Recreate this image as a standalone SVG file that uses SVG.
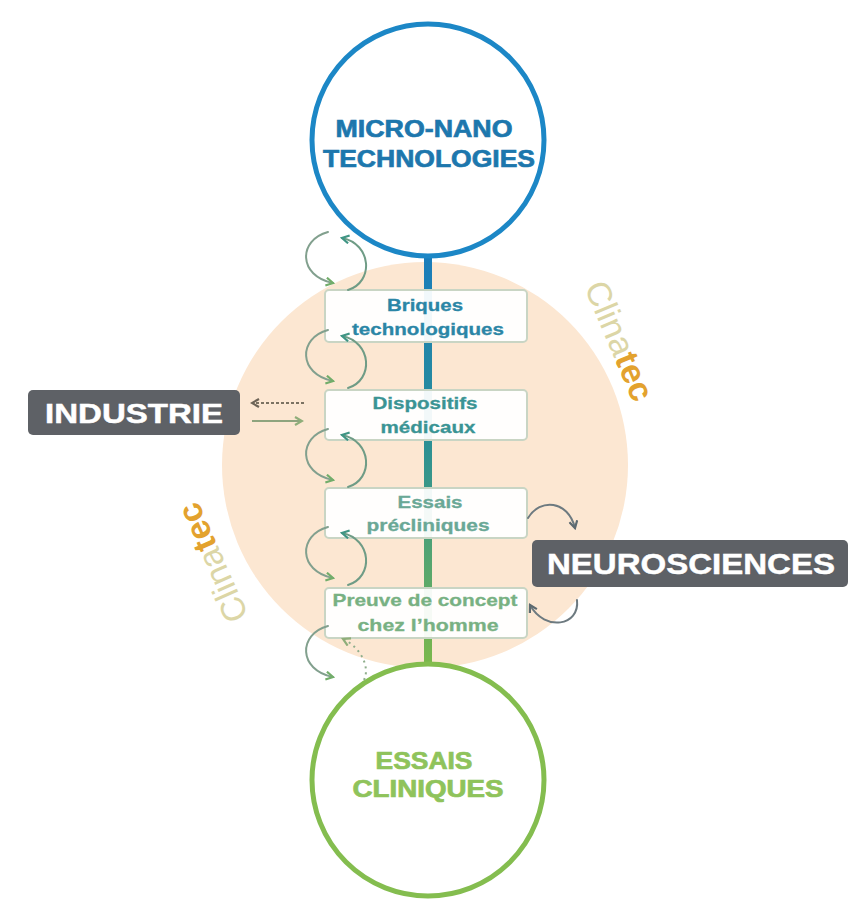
<svg xmlns="http://www.w3.org/2000/svg" width="859" height="904" viewBox="0 0 859 904">
  <style>
    .cap { font-family: "Liberation Sans", Arial, sans-serif; font-weight: bold; text-anchor: middle; stroke-width: 0.7; }
    .step { font-family: "Liberation Sans", Arial, sans-serif; font-weight: bold; font-size: 17px; text-anchor: middle; stroke-width: 0.3; }
    .box { fill: #ffffff; fill-opacity: 0.94; stroke: #c9d5c4; stroke-width: 2; }
    .tag { fill: #5e6166; }
    .tagtxt { fill: #ffffff; stroke: #ffffff; stroke-width: 0.5; }
    .loopL { fill: none; stroke: #82a08e; stroke-width: 2; stroke-linecap: round; marker-end: url(#headG); }
    .loopR { fill: none; stroke: #6f9c86; stroke-width: 2; stroke-linecap: round; marker-end: url(#headT); }
    .grey { fill: none; stroke: #6d7a80; stroke-width: 2; stroke-linecap: round; marker-end: url(#headGrey); }
    .clina { font-family: "Liberation Sans", Arial, sans-serif; font-size: 34px; }
  </style>
  <defs>
    <linearGradient id="spine" x1="0" y1="257" x2="0" y2="663" gradientUnits="userSpaceOnUse">
      <stop offset="0" stop-color="#1a7dbb"/>
      <stop offset="0.45" stop-color="#2a8f96"/>
      <stop offset="0.75" stop-color="#55a570"/>
      <stop offset="1" stop-color="#7bb84c"/>
    </linearGradient>
    <marker id="headG" viewBox="0 0 10 10" refX="8" refY="5" markerWidth="5" markerHeight="5" orient="auto">
      <path d="M1,1 L8,5 L1,9" fill="none" stroke="#72ad6a" stroke-width="2.2"/>
    </marker>
    <marker id="headT" viewBox="0 0 10 10" refX="8" refY="5" markerWidth="5" markerHeight="5" orient="auto">
      <path d="M1,1 L8,5 L1,9" fill="none" stroke="#3f9584" stroke-width="2.2"/>
    </marker>
    <marker id="headGrey" viewBox="0 0 10 10" refX="8" refY="5" markerWidth="5" markerHeight="5" orient="auto">
      <path d="M1,1 L8,5 L1,9" fill="none" stroke="#5d6a70" stroke-width="2.2"/>
    </marker>
    <marker id="headDark" viewBox="0 0 10 10" refX="8" refY="5" markerWidth="5" markerHeight="5" orient="auto">
      <path d="M1,1 L8,5 L1,9" fill="none" stroke="#6c6356" stroke-width="2.2"/>
    </marker>
    <marker id="headLight" viewBox="0 0 10 10" refX="8" refY="5" markerWidth="5" markerHeight="5" orient="auto">
      <path d="M1,1 L8,5 L1,9" fill="none" stroke="#8fae7a" stroke-width="2.2"/>
    </marker>
    <!-- one feedback loop beside the chain, drawn for a top edge at y=0 -->
    <g id="loop">
      <path class="loopL" d="M328,2 C298,10 298,46 333,53"/>
      <path class="loopR" d="M348,60 C374,52 372,14 342,8"/>
    </g>
  </defs>

  <rect width="859" height="904" fill="#ffffff"/>

  <!-- Clinatec backdrop -->
  <g id="clinatec">
    <circle cx="425" cy="465" r="203" fill="#fce7d2"/>
    <text class="clina" transform="translate(584,287) rotate(67)"><tspan fill="#dcd6a6">Clina</tspan><tspan fill="#e3a22e" font-weight="bold">tec</tspan></text>
    <text class="clina" transform="translate(249,616) rotate(-114)"><tspan fill="#dcd6a6">Clina</tspan><tspan fill="#e3a22e" font-weight="bold">tec</tspan></text>
  </g>

  <!-- the vertical chain, running behind the step boxes -->
  <g id="chain">
    <line x1="428" y1="257" x2="428" y2="663" stroke="url(#spine)" stroke-width="8"/>
  </g>

  <g id="micro-nano">
    <circle cx="428" cy="140" r="116" fill="#ffffff" stroke="#1c87c6" stroke-width="5"/>
    <text class="cap" x="424" y="137" font-size="24" fill="#1d77ad" stroke="#1d77ad" textLength="177" lengthAdjust="spacingAndGlyphs">MICRO-NANO</text>
    <text class="cap" x="429" y="167" font-size="24" fill="#1d77ad" stroke="#1d77ad" textLength="212" lengthAdjust="spacingAndGlyphs">TECHNOLOGIES</text>
  </g>

  <g id="essais-cliniques">
    <circle cx="428" cy="780" r="116" fill="#ffffff" stroke="#84bd4f" stroke-width="5"/>
    <text class="cap" x="424" y="769" font-size="23" fill="#8fc35b" stroke="#8fc35b" textLength="97" lengthAdjust="spacingAndGlyphs">ESSAIS</text>
    <text class="cap" x="428" y="797" font-size="23" fill="#8fc35b" stroke="#8fc35b" textLength="151" lengthAdjust="spacingAndGlyphs">CLINIQUES</text>
  </g>

  <g id="briques">
    <rect class="box" x="325" y="290" width="202" height="52" rx="4"/>
    <text class="step" x="425" y="311" fill="#2b86a6" stroke="#2b86a6" textLength="76" lengthAdjust="spacingAndGlyphs">Briques</text>
    <text class="step" x="428" y="335" fill="#2b86a6" stroke="#2b86a6" textLength="152" lengthAdjust="spacingAndGlyphs">technologiques</text>
  </g>

  <g id="dispositifs">
    <rect class="box" x="325" y="390" width="202" height="50" rx="4"/>
    <text class="step" x="425" y="409" fill="#3a9494" stroke="#3a9494" textLength="105" lengthAdjust="spacingAndGlyphs">Dispositifs</text>
    <text class="step" x="428" y="433" fill="#3a9494" stroke="#3a9494" textLength="95" lengthAdjust="spacingAndGlyphs">médicaux</text>
  </g>

  <g id="precliniques">
    <rect class="box" x="325" y="488" width="202" height="50" rx="4"/>
    <text class="step" x="430" y="508" fill="#6aa896" stroke="#6aa896" textLength="65" lengthAdjust="spacingAndGlyphs">Essais</text>
    <text class="step" x="428" y="531" fill="#6aa896" stroke="#6aa896" textLength="123" lengthAdjust="spacingAndGlyphs">précliniques</text>
  </g>

  <g id="preuve">
    <rect class="box" x="325" y="588" width="202" height="50" rx="4"/>
    <text class="step" x="425" y="606" fill="#78b183" stroke="#78b183" textLength="185" lengthAdjust="spacingAndGlyphs">Preuve de concept</text>
    <text class="step" x="428" y="631" fill="#78b183" stroke="#78b183" textLength="141" lengthAdjust="spacingAndGlyphs">chez l’homme</text>
  </g>

  <g id="industrie">
    <rect class="tag" x="28" y="390" width="212" height="45" rx="5"/>
    <text class="cap tagtxt" x="134" y="423" font-size="28" textLength="178" lengthAdjust="spacingAndGlyphs">INDUSTRIE</text>
  </g>

  <g id="neurosciences">
    <rect class="tag" x="532" y="540" width="316" height="47" rx="5"/>
    <text class="cap tagtxt" x="691" y="574" font-size="30" textLength="288" lengthAdjust="spacingAndGlyphs">NEUROSCIENCES</text>
  </g>

  <!-- connectors: feedback loops and exchange arrows -->
  <g id="connectors">
    <use href="#loop" transform="translate(0,230)"/>
    <use href="#loop" transform="translate(0,328)"/>
    <use href="#loop" transform="translate(0,427)"/>
    <use href="#loop" transform="translate(0,525)"/>
    <path class="loopL" d="M328,626 C298,634 298,670 333,677"/>
    <path d="M364,680 C370,668 362,648 343,639" fill="none" stroke="#8fae8c" stroke-width="2" stroke-dasharray="2 4" marker-end="url(#headLight)"/>
    <path class="grey" d="M528,518 C540,498 568,500 575,528"/>
    <path class="grey" d="M577,600 C580,626 545,632 530,605"/>
    <path d="M304,403 L252,403" fill="none" stroke="#7b7262" stroke-width="2" stroke-dasharray="3 2" marker-end="url(#headDark)"/>
    <path d="M252,421 L302,421" fill="none" stroke="#8ea47e" stroke-width="2" marker-end="url(#headLight)"/>
  </g>
</svg>
